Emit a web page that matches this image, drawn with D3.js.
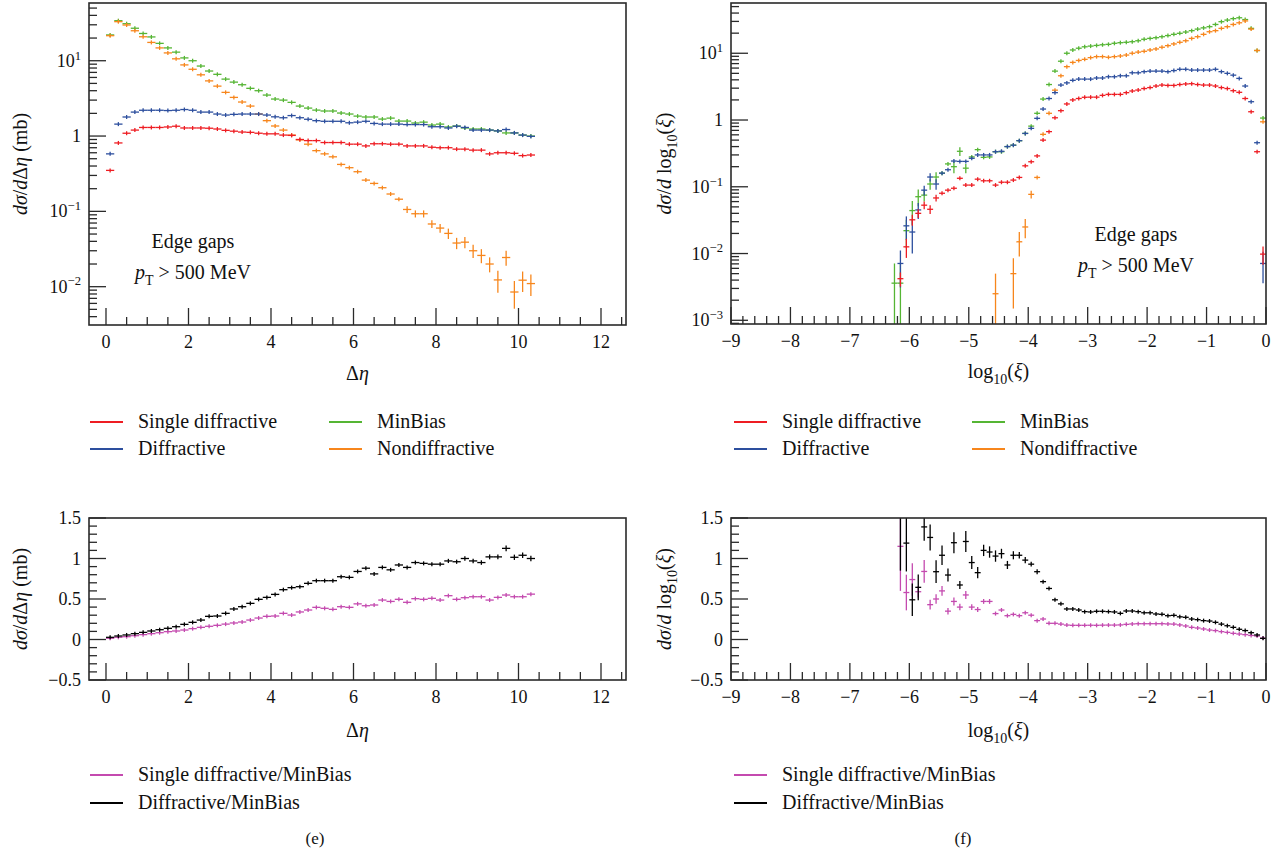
<!DOCTYPE html>
<html>
<head>
<meta charset="utf-8">
<script src="https://cdn.jsdelivr.net/npm/d3@7"></script>
<style>
  body { margin: 0; background: #fff; }
  svg text { fill: #111; }
</style>
</head>
<body>
<svg id="canvas" width="1285" height="854"></svg>
<script>
// ************************************************************************************** //
// Data

var eta_bins = [0.1,0.3,0.5,0.7,0.9,1.1,1.3,1.5,1.7,1.9,2.1,2.3,2.5,2.7,2.9,3.1,3.3,3.5,3.7,3.9,
  4.1,4.3,4.5,4.7,4.9,5.1,5.3,5.5,5.7,5.9,6.1,6.3,6.5,6.7,6.9,7.1,7.3,7.5,7.7,7.9,
  8.1,8.3,8.5,8.7,8.9,9.1,9.3,9.5,9.7,9.9,10.1,10.3];

var xi_bins = [-6.25,-6.15,-6.05,-5.95,-5.85,-5.75,-5.65,-5.55,-5.45,-5.35,
  -5.25,-5.15,-5.05,-4.95,-4.85,-4.75,-4.65,-4.55,-4.45,-4.35,
  -4.25,-4.15,-4.05,-3.95,-3.85,-3.75,-3.65,-3.55,-3.45,-3.35,
  -3.25,-3.15,-3.05,-2.95,-2.85,-2.75,-2.65,-2.55,-2.45,-2.35,
  -2.25,-2.15,-2.05,-1.95,-1.85,-1.75,-1.65,-1.55,-1.45,-1.35,
  -1.25,-1.15,-1.05,-0.95,-0.85,-0.75,-0.65,-0.55,-0.45,-0.35,
  -0.25,-0.15,-0.05];

// d sigma / d Delta eta (mb)
var sd_eta = [0.35,0.81,1.09,1.2,1.3,1.3,1.3,1.32,1.35,1.28,1.28,1.28,1.27,1.24,1.19,1.16,1.13,1.12,1.09,1.07,
  1.07,1.03,1.02,0.9,0.87,0.87,0.82,0.82,0.82,0.78,0.78,0.74,0.79,0.79,0.78,0.78,0.74,0.74,0.74,0.71,
  0.7,0.7,0.67,0.67,0.65,0.65,0.58,0.6,0.6,0.59,0.55,0.56];
var mb_eta = [22,34,31,27,23,20.7,17,14.8,13,10.9,10,8.5,7.3,6.6,5.7,5.2,4.8,4.3,4.0,3.5,
  3.1,3.0,2.8,2.5,2.35,2.21,2.15,2.15,2.02,1.96,1.84,1.79,1.79,1.68,1.73,1.58,1.58,1.49,1.53,1.40,
  1.44,1.32,1.36,1.28,1.24,1.24,1.20,1.17,1.10,1.10,1.03,1.0];
var diff_eta = [0.58,1.44,1.79,2.08,2.2,2.2,2.2,2.18,2.2,2.25,2.2,2.08,2.08,1.96,1.9,1.94,1.96,1.96,1.96,1.9,
  1.8,1.75,1.87,1.75,1.67,1.6,1.57,1.57,1.57,1.5,1.53,1.57,1.47,1.44,1.44,1.44,1.42,1.42,1.42,1.33,
  1.33,1.28,1.35,1.30,1.2,1.2,1.2,1.17,1.22,1.1,1.03,0.99];
var nd_eta = [21.5,33,29.8,25,20.8,17.5,14.8,12.7,10.6,8.8,7.7,6.5,5.4,4.6,3.8,3.26,2.83,2.5,1.96,1.6,
  1.36,1.2,1.03,0.89,0.78,0.64,0.58,0.53,0.42,0.38,0.336,0.26,0.235,0.206,0.17,0.145,0.106,0.093,0.093,0.068,
  0.06,0.051,0.038,0.039,0.030,0.026,0.020,0.0123,0.0244,0.0085,0.0122,0.011];
var nd_eta_err = [[6.3,0.012],[6.5,0.011],[6.7,0.01],[6.9,0.009],[7.1,0.009],[7.3,0.011],[7.5,0.01],[7.7,0.01],
  [7.9,0.008],[8.1,0.008],[8.3,0.008],[8.5,0.0065],[8.7,0.0067],[8.9,0.006],[9.1,0.0055],[9.3,0.0045],
  [9.5,0.004],[9.7,0.0055],[9.9,0.0034],[10.1,0.0037],[10.3,0.0035]];

// d sigma / d log10(xi)
var sd_xi = [null,0.0042,0.0126,0.032,0.040,0.053,0.046,0.068,0.08,0.089,
  0.095,0.134,0.106,0.106,0.13,0.123,0.123,0.106,0.117,0.117,
  0.126,0.138,0.206,0.237,0.29,0.5,0.67,1.08,1.38,1.74,
  2.0,2.1,2.19,2.2,2.2,2.34,2.42,2.42,2.42,2.57,
  2.72,2.81,2.96,3.06,3.23,3.34,3.3,3.3,3.4,3.47,
  3.5,3.4,3.34,3.34,3.23,3.06,2.96,2.75,2.6,2.1,
  1.33,0.335,0.0098];
var mb_xi = [0.0036,0.0036,0.022,0.044,0.071,0.075,0.11,0.14,0.16,0.22,
  0.2,0.34,0.19,0.28,0.36,0.276,0.28,0.335,0.335,0.40,
  0.42,0.49,0.63,0.81,1.26,2.06,3.4,5.4,7.6,10,
  11.2,11.9,12.5,12.8,13.1,13.4,13.6,14.1,14.4,14.6,
  14.9,15.4,16.2,16.7,17.1,17.7,18.4,19.2,19.9,20.8,
  21.8,23,24,25,27,29.7,31.4,33,34,32,
  23.6,11,1.07];
var diff_xi = [null,0.0071,0.026,0.021,0.045,0.089,0.14,0.11,0.16,0.18,
  0.243,0.24,0.24,0.267,0.30,0.30,0.30,0.335,0.34,0.40,
  0.42,0.49,0.63,0.75,1.06,1.46,2.1,2.57,3.34,3.6,
  3.93,4.1,4.1,4.1,4.26,4.26,4.45,4.45,4.6,4.6,
  5.1,5.1,5.3,5.4,5.4,5.4,5.3,5.5,5.75,5.75,
  5.6,5.6,5.6,5.6,5.75,5.3,5.0,4.7,4.2,3.23,
  1.88,0.457,0.0071];
var nd_xi = [null,null,null,null,null,null,null,null,null,null,
  null,null,null,null,null,null,null,0.0025,null,null,
  0.005,0.015,0.025,0.077,0.138,0.61,1.26,2.8,4.6,6.3,
  7.3,7.8,8.1,8.6,8.9,8.9,8.7,8.9,9.1,9.4,
  10,10.4,10.7,11.2,11.6,12.3,13,13.8,14.6,15.4,
  16.7,17.7,19.2,21,21.8,23.6,25,27,28.6,30.5,
  23,11,0.94];
var sd_xi_err = [[-6.15,0.001],[-6.05,0.004],[-5.95,0.006],[-5.85,0.006],[-5.75,0.007],[-5.65,0.007],[-5.55,0.008],[-0.05,0.003]];
var mb_xi_err = [[-6.25,0.0035],[-6.15,0.0035],[-6.05,0.01],[-5.95,0.017],[-5.85,0.02],[-5.75,0.015],[-5.65,0.02],[-5.55,0.025],[-5.25,0.04],[-5.15,0.05],[-5.05,0.03]];
var diff_xi_err = [[-6.15,0.004],[-6.05,0.01],[-5.95,0.011],[-5.85,0.012],[-5.75,0.015],[-5.65,0.02],[-5.55,0.02],[-0.05,0.0035]];
var nd_xi_err = [[-4.55,0.0025],[-4.25,0.0035],[-4.15,0.006],[-4.05,0.008],[-3.95,0.01]];

// ratios
var sd_ratio_eta = [0.015,0.027,0.035,0.047,0.06,0.072,0.084,0.097,0.105,0.117,
  0.134,0.15,0.163,0.175,0.19,0.204,0.216,0.24,0.265,0.286,
  0.29,0.323,0.302,0.34,0.364,0.397,0.385,0.372,0.405,0.397,
  0.44,0.417,0.426,0.487,0.47,0.496,0.459,0.504,0.496,0.508,
  0.487,0.541,0.496,0.516,0.528,0.528,0.487,0.52,0.549,0.528,
  0.528,0.56];
var diff_ratio_eta = [0.027,0.043,0.056,0.072,0.088,0.105,0.121,0.138,0.158,0.187,
  0.212,0.24,0.286,0.29,0.323,0.377,0.405,0.446,0.496,0.52,
  0.557,0.615,0.64,0.652,0.693,0.726,0.726,0.726,0.775,0.767,
  0.84,0.88,0.81,0.89,0.86,0.92,0.89,0.95,0.94,0.93,
  0.93,0.97,0.96,1.0,0.97,0.95,1.02,1.02,1.125,1.015,
  1.04,1.0];
var sd_ratio_eta_err = [[7.5,0.015],[7.9,0.015],[8.3,0.016],[8.7,0.016],[9.1,0.017],[9.5,0.018],[9.7,0.02],[9.9,0.02],[10.1,0.02],[10.3,0.02]];
var diff_ratio_eta_err = [[6.1,0.02],[6.3,0.02],[6.5,0.02],[6.7,0.022],[6.9,0.022],[7.1,0.022],[7.3,0.024],[7.5,0.024],[7.7,0.024],[7.9,0.025],
  [8.1,0.025],[8.3,0.026],[8.5,0.026],[8.7,0.027],[8.9,0.028],[9.1,0.028],[9.3,0.03],[9.5,0.03],[9.7,0.034],[9.9,0.033],[10.1,0.034],[10.3,0.034]];

var sd_ratio_xi = [null,1.15,0.58,0.74,0.59,0.84,0.43,0.5,0.6,0.35,
  0.47,0.4,0.55,0.4,0.37,0.47,0.47,0.32,0.364,0.294,
  0.31,0.294,0.33,0.30,0.233,0.253,0.2,0.2,0.19,0.178,
  0.175,0.175,0.175,0.176,0.175,0.177,0.178,0.178,0.18,0.187,
  0.192,0.195,0.195,0.195,0.195,0.195,0.192,0.19,0.18,0.167,
  0.15,0.142,0.13,0.117,0.11,0.097,0.088,0.076,0.068,0.06,
  0.05,0.043,0.018];
var diff_ratio_xi = [null,1.75,1.19,0.49,0.644,1.39,1.26,0.837,1.04,0.796,
  1.195,0.673,1.21,0.95,0.825,1.1,1.08,1.03,1.06,0.92,
  1.04,1.04,0.98,0.93,0.837,0.714,0.63,0.49,0.44,0.377,
  0.377,0.364,0.344,0.34,0.348,0.348,0.344,0.34,0.323,0.352,
  0.352,0.344,0.33,0.33,0.315,0.311,0.294,0.298,0.28,0.274,
  0.253,0.245,0.233,0.228,0.212,0.19,0.17,0.15,0.126,0.11,
  0.084,0.056,0.014];
var sd_ratio_xi_err = [[-6.15,0.55],[-6.05,0.22],[-5.95,0.2],[-5.85,0.07],[-5.75,0.14],[-5.65,0.06],[-5.55,0.06],[-5.45,0.06],[-5.35,0.04],
  [-5.25,0.05],[-5.15,0.04],[-5.05,0.05],[-4.95,0.035],[-4.85,0.03],[-4.75,0.03],[-4.65,0.03],[-4.55,0.025],[-4.45,0.025],[-4.35,0.02],[-4.25,0.02],[-4.15,0.02],[-4.05,0.02]];
var diff_ratio_xi_err = [[-6.15,0.9],[-6.05,0.35],[-5.95,0.2],[-5.85,0.16],[-5.75,0.17],[-5.65,0.16],[-5.55,0.14],[-5.45,0.12],[-5.35,0.08],
  [-5.25,0.13],[-5.15,0.05],[-5.05,0.13],[-4.95,0.08],[-4.85,0.07],[-4.75,0.07],[-4.65,0.07],[-4.55,0.07],[-4.45,0.06],[-4.35,0.05],
  [-4.25,0.05],[-4.15,0.04],[-4.05,0.04],[-3.95,0.03],[-3.85,0.03],[-3.75,0.02]];

var legend_top = ['Single diffractive', 'MinBias', 'Diffractive', 'Nondiffractive'];
var legend_bottom = ['Single diffractive/MinBias', 'Diffractive/MinBias'];
var captions = ['(e)', '(f)'];

// ************************************************************************************** //
// Styles

var FONT = "'Liberation Serif', 'Times New Roman', serif";
var col = { sd: '#ee1d23', mb: '#55b534', diff: '#2d4f9e', nd: '#f7861c', sdr: '#c44aaf', dr: '#000000' };
var svg = d3.select('#canvas');

function errOf(list, b){
  if(!list) return 0;
  for(var k = 0; k < list.length; k++){ if(Math.abs(list[k][0] - b) < 1e-6) return list[k][1]; }
  return 0;
}

function txt(parent){
  return parent.append('text').style('font-family', FONT).attr('fill', '#111');
}

// append text made of styled pieces: i = italic, sub / sup = shifted smaller
function richText(sel, parts, size){
  var shift = 0;
  parts.forEach(function(pt){
    var off = pt.sub ? size*0.3 : (pt.sup ? -size*0.4 : 0);
    var ts = sel.append('tspan').text(pt.t).attr('dy', off - shift);
    if(pt.i) ts.attr('font-style', 'italic');
    if(pt.sub || pt.sup) ts.attr('font-size', size*0.7);
    shift = off;
  });
  return sel;
}

function minus(v){ return v < 0 ? '\u2212' + Math.abs(v) : '' + v; }

// ************************************************************************************** //
// Panel

function drawPanel(p){
  var g = svg.append('g');
  var x = d3.scaleLinear().domain(p.xdom).range([p.left, p.right]);
  var y = p.log ? d3.scaleLog().domain(p.ydom).range([p.bottom, p.top])
                : d3.scaleLinear().domain(p.ydom).range([p.bottom, p.top]);

  var clip_id = 'clip_' + p.id;
  svg.append('clipPath').attr('id', clip_id).append('rect')
    .attr('x', p.left).attr('y', p.top).attr('width', p.right - p.left).attr('height', p.bottom - p.top);
  var data_g = g.append('g').attr('clip-path', 'url(#' + clip_id + ')');

  // Points: bin-wide horizontal bar + vertical error bar
  p.series.forEach(function(s){
    var sg = data_g.append('g').attr('stroke', s.color).attr('stroke-width', 1.3).attr('fill', 'none');
    p.bins.forEach(function(b, i){
      var v = s.values[i];
      if(v == null) return;
      var e = errOf(s.err, b);
      var yv = y(v);
      sg.append('line').attr('x1', x(b - p.hw)).attr('x2', x(b + p.hw)).attr('y1', yv).attr('y2', yv);
      var lo = v - e;
      if(p.log && lo <= 0) lo = p.ydom[0] * 0.3;
      var y_lo = Math.max(y(lo), yv + 2);
      var y_hi = Math.min(y(v + e), yv - 2);
      sg.append('line').attr('x1', x(b)).attr('x2', x(b)).attr('y1', y_lo).attr('y2', y_hi);
    });
  });

  // Frame
  g.append('rect').attr('x', p.left).attr('y', p.top).attr('width', p.right - p.left).attr('height', p.bottom - p.top)
    .attr('fill', 'none').attr('stroke', '#2a2a2a').attr('stroke-width', 1.6);

  var tick_g = g.append('g').attr('stroke', '#2a2a2a').attr('stroke-width', 1.3);

  // x ticks
  d3.range(p.xt[0], p.xt[1] + 1e-9, p.xt[2]).forEach(function(v){
    var major = Math.abs(v / p.xt[3] - Math.round(v / p.xt[3])) < 1e-6;
    var xp = x(v);
    tick_g.append('line').attr('x1', xp).attr('x2', xp).attr('y1', p.bottom).attr('y2', p.bottom - (major ? 17 : 8));
    if(major){
      txt(g).attr('x', xp).attr('y', p.bottom + 23).attr('text-anchor', 'middle')
        .attr('font-size', 18).text(minus(Math.round(v)));
    }
  });

  // y ticks
  if(p.log){
    var d0 = Math.floor(Math.log10(p.ydom[0])), d1 = Math.ceil(Math.log10(p.ydom[1]));
    for(var d = d0; d <= d1; d++){
      for(var k = 1; k <= 9; k++){
        var v = k * Math.pow(10, d);
        if(v < p.ydom[0] || v > p.ydom[1]) continue;
        var yp = y(v);
        tick_g.append('line').attr('x1', p.left).attr('x2', p.left + (k == 1 ? 17 : 8)).attr('y1', yp).attr('y2', yp);
        if(k == 1){
          var t = txt(g).attr('x', p.left - 8).attr('y', yp + 6).attr('text-anchor', 'end').attr('font-size', 18);
          if(d == 0) t.text('1');
          else richText(t, [{ t: '10' }, { t: minus(d), sup: true }], 18);
        }
      }
    }
  } else {
    d3.range(p.ydom[0], p.ydom[1] + 1e-9, 0.1).forEach(function(v){
      var major = Math.abs(v / 0.5 - Math.round(v / 0.5)) < 1e-6;
      var yp = y(v);
      tick_g.append('line').attr('x1', p.left).attr('x2', p.left + (major ? 17 : 8)).attr('y1', yp).attr('y2', yp);
      if(major){
        txt(g).attr('x', p.left - 8).attr('y', yp + 6).attr('text-anchor', 'end')
          .attr('font-size', 18).text(minus(Math.round(v * 10) / 10));
      }
    });
  }

  // axis titles
  richText(txt(g).attr('x', (p.left + p.right) / 2).attr('y', p.xlab_y).attr('text-anchor', 'middle').attr('font-size', 20),
    p.xlab, 20);
  richText(txt(g).attr('text-anchor', 'middle').attr('font-size', 20)
    .attr('transform', 'translate(' + p.ylab_x + ',' + ((p.top + p.bottom) / 2) + ') rotate(-90)'),
    p.ylab, 20);

  // annotation
  if(p.note){
    txt(g).attr('x', p.note[0]).attr('y', p.note[1]).attr('text-anchor', 'middle').attr('font-size', 20).text('Edge gaps');
    richText(txt(g).attr('x', p.note[0]).attr('y', p.note[1] + 31).attr('text-anchor', 'middle').attr('font-size', 20),
      [{ t: 'p', i: true }, { t: 'T', sub: true }, { t: ' > 500 MeV' }], 20);
  }
}

// legend entry
function legendItem(x0, y0, color, label){
  svg.append('line').attr('x1', x0).attr('x2', x0 + 33).attr('y1', y0).attr('y2', y0)
    .attr('stroke', color).attr('stroke-width', 2);
  txt(svg).attr('x', x0 + 48).attr('y', y0 + 6).attr('font-size', 20).text(label);
}

// ************************************************************************************** //
// Build

var lab_eta = [{ t: 'Δ' }, { t: 'η', i: true }];
var lab_xi = [{ t: 'log' }, { t: '10', sub: true }, { t: '(' }, { t: 'ξ', i: true }, { t: ')' }];
var ylab_eta = [{ t: 'dσ', i: true }, { t: '/' }, { t: 'd', i: true }, { t: 'Δ' }, { t: 'η', i: true }, { t: ' (mb)' }];
var ylab_xi = [{ t: 'dσ', i: true }, { t: '/' }, { t: 'd', i: true }, { t: ' log' }, { t: '10', sub: true }, { t: '(' }, { t: 'ξ', i: true }, { t: ')' }];

drawPanel({
  id: 'tl', left: 89, right: 626, top: 3, bottom: 325,
  xdom: [-0.412, 12.606], xt: [0, 12.5, 0.5, 2], log: true, ydom: [0.0031, 58.4],
  bins: eta_bins, hw: 0.1,
  series: [
    { values: mb_eta, color: col.mb },
    { values: nd_eta, color: col.nd, err: nd_eta_err },
    { values: diff_eta, color: col.diff },
    { values: sd_eta, color: col.sd }
  ],
  xlab: lab_eta, xlab_y: 380, ylab: ylab_eta, ylab_x: 27, note: [193, 248]
});

drawPanel({
  id: 'tr', left: 731, right: 1266, top: 3, bottom: 324,
  xdom: [-9, 0], xt: [-9, 0, 0.2, 1], log: true, ydom: [0.00088, 56.6],
  bins: xi_bins, hw: 0.05,
  series: [
    { values: mb_xi, color: col.mb, err: mb_xi_err },
    { values: nd_xi, color: col.nd, err: nd_xi_err },
    { values: diff_xi, color: col.diff, err: diff_xi_err },
    { values: sd_xi, color: col.sd, err: sd_xi_err }
  ],
  xlab: lab_xi, xlab_y: 378, ylab: ylab_xi, ylab_x: 671, note: [1136, 241]
});

drawPanel({
  id: 'bl', left: 89, right: 626, top: 518, bottom: 680,
  xdom: [-0.412, 12.606], xt: [0, 12.5, 0.5, 2], log: false, ydom: [-0.5, 1.5],
  bins: eta_bins, hw: 0.1,
  series: [
    { values: sd_ratio_eta, color: col.sdr, err: sd_ratio_eta_err },
    { values: diff_ratio_eta, color: col.dr, err: diff_ratio_eta_err }
  ],
  xlab: lab_eta, xlab_y: 737, ylab: ylab_eta, ylab_x: 27
});

drawPanel({
  id: 'br', left: 731, right: 1266, top: 518, bottom: 680,
  xdom: [-9, 0], xt: [-9, 0, 0.2, 1], log: false, ydom: [-0.5, 1.5],
  bins: xi_bins, hw: 0.05,
  series: [
    { values: sd_ratio_xi, color: col.sdr, err: sd_ratio_xi_err },
    { values: diff_ratio_xi, color: col.dr, err: diff_ratio_xi_err }
  ],
  xlab: lab_xi, xlab_y: 737, ylab: ylab_xi, ylab_x: 671
});

// Legends
var top_cols = [col.sd, col.mb, col.diff, col.nd];
[[90, 329], [734, 972]].forEach(function(xs){
  legend_top.forEach(function(name, i){
    legendItem(xs[i % 2], 422 + Math.floor(i / 2) * 27, top_cols[i], name);
  });
});
[90, 734].forEach(function(x0){
  legendItem(x0, 775, col.sdr, legend_bottom[0]);
  legendItem(x0, 803, col.dr, legend_bottom[1]);
});

txt(svg).attr('x', 315).attr('y', 844).attr('text-anchor', 'middle').attr('font-size', 17).text(captions[0]);
txt(svg).attr('x', 963).attr('y', 844).attr('text-anchor', 'middle').attr('font-size', 17).text(captions[1]);
</script>
</body>
</html>
